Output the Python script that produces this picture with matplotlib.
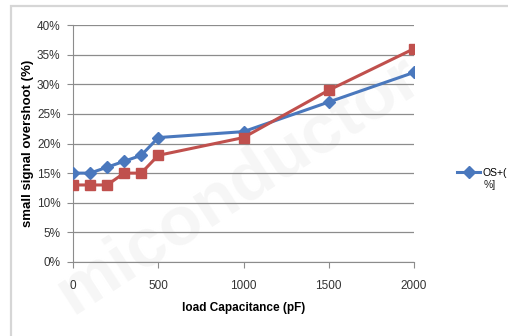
import matplotlib
matplotlib.use("Agg")
import matplotlib.pyplot as plt
from matplotlib.patches import Rectangle
from matplotlib.ticker import FuncFormatter

# Load capacitance sweep (pF) and small-signal overshoot (%)
load_pf = [0, 100, 200, 300, 400, 500, 1000, 1500, 2000]
os_plus = [15, 15, 16, 17, 18, 21, 22, 27, 32]
os_minus = [13, 13, 13, 15, 15, 18, 21, 29, 36]
x_ticks = [0, 500, 1000, 1500, 2000]
y_ticks = [0, 5, 10, 15, 20, 25, 30, 35, 40]

plt.rcParams["font.family"] = ["Liberation Sans", "DejaVu Sans"]

fig = plt.figure(figsize=(5.08, 3.36), dpi=100)
fig.patch.set_facecolor("white")

# chart-area frame
fig.patches.append(Rectangle((11 / 508, -0.05), 1.2, 1 - 6 / 336 + 0.05,
                             transform=fig.transFigure, fill=False,
                             edgecolor="#d6d6d6", linewidth=1.6, zorder=0))

# faint background watermark
fig.text(0.47, 0.45, "miconductor", transform=fig.transFigure,
         fontsize=50, fontweight="bold", color="#f6f6f6",
         rotation=33, ha="center", va="center", zorder=-1)

ax = fig.add_axes([73 / 508, 1 - 262 / 336, (414 - 73) / 508, (262 - 25) / 336])
ax.set_zorder(2)
ax.set_facecolor("none")

ax.plot(load_pf, os_plus, color="#4a78bd", marker="D", markersize=6,
        linewidth=2.2, zorder=3, label="OS+(")
ax.plot(load_pf, os_minus, color="#c0504d", marker="s", markersize=7.5,
        linewidth=2.2, zorder=3)

ax.set_xlim(0, 2000)
ax.set_ylim(0, 40)
ax.set_xticks(x_ticks)
ax.set_yticks(y_ticks)
ax.yaxis.set_major_formatter(FuncFormatter(lambda v, p: f"{int(v)}%"))
ax.grid(axis="y", color="#8c8c8c", linewidth=0.9)
ax.set_axisbelow(True)

for s in ["top", "right"]:
    ax.spines[s].set_visible(False)
ax.spines["left"].set_color("#8c8c8c")
ax.spines["bottom"].set_color("#8c8c8c")
ax.tick_params(axis="x", direction="out", length=4, color="#8c8c8c",
               labelsize=8.5, labelcolor="#333333", pad=9)
ax.tick_params(axis="y", length=4, color="#8c8c8c", labelsize=8.5,
               labelcolor="#333333", pad=5)

ax.set_xlabel("load Capacitance (pF)", fontsize=8.5, fontweight="bold",
              labelpad=7)
ax.set_ylabel("small signal overshoot (%)", fontsize=9.5, fontweight="bold",
              labelpad=2)

ax.legend(loc="center left", bbox_to_anchor=(1.115, 0.3755), frameon=False,
          fontsize=7.5, handlelength=2.2, handletextpad=0.2, borderaxespad=0)
# wrapped remainder of the legend label
fig.text(484 / 508, 1 - 185 / 336, "%]", fontsize=7.5, ha="left",
         va="center", color="#222222")

fig.savefig("out.png", dpi=100)
